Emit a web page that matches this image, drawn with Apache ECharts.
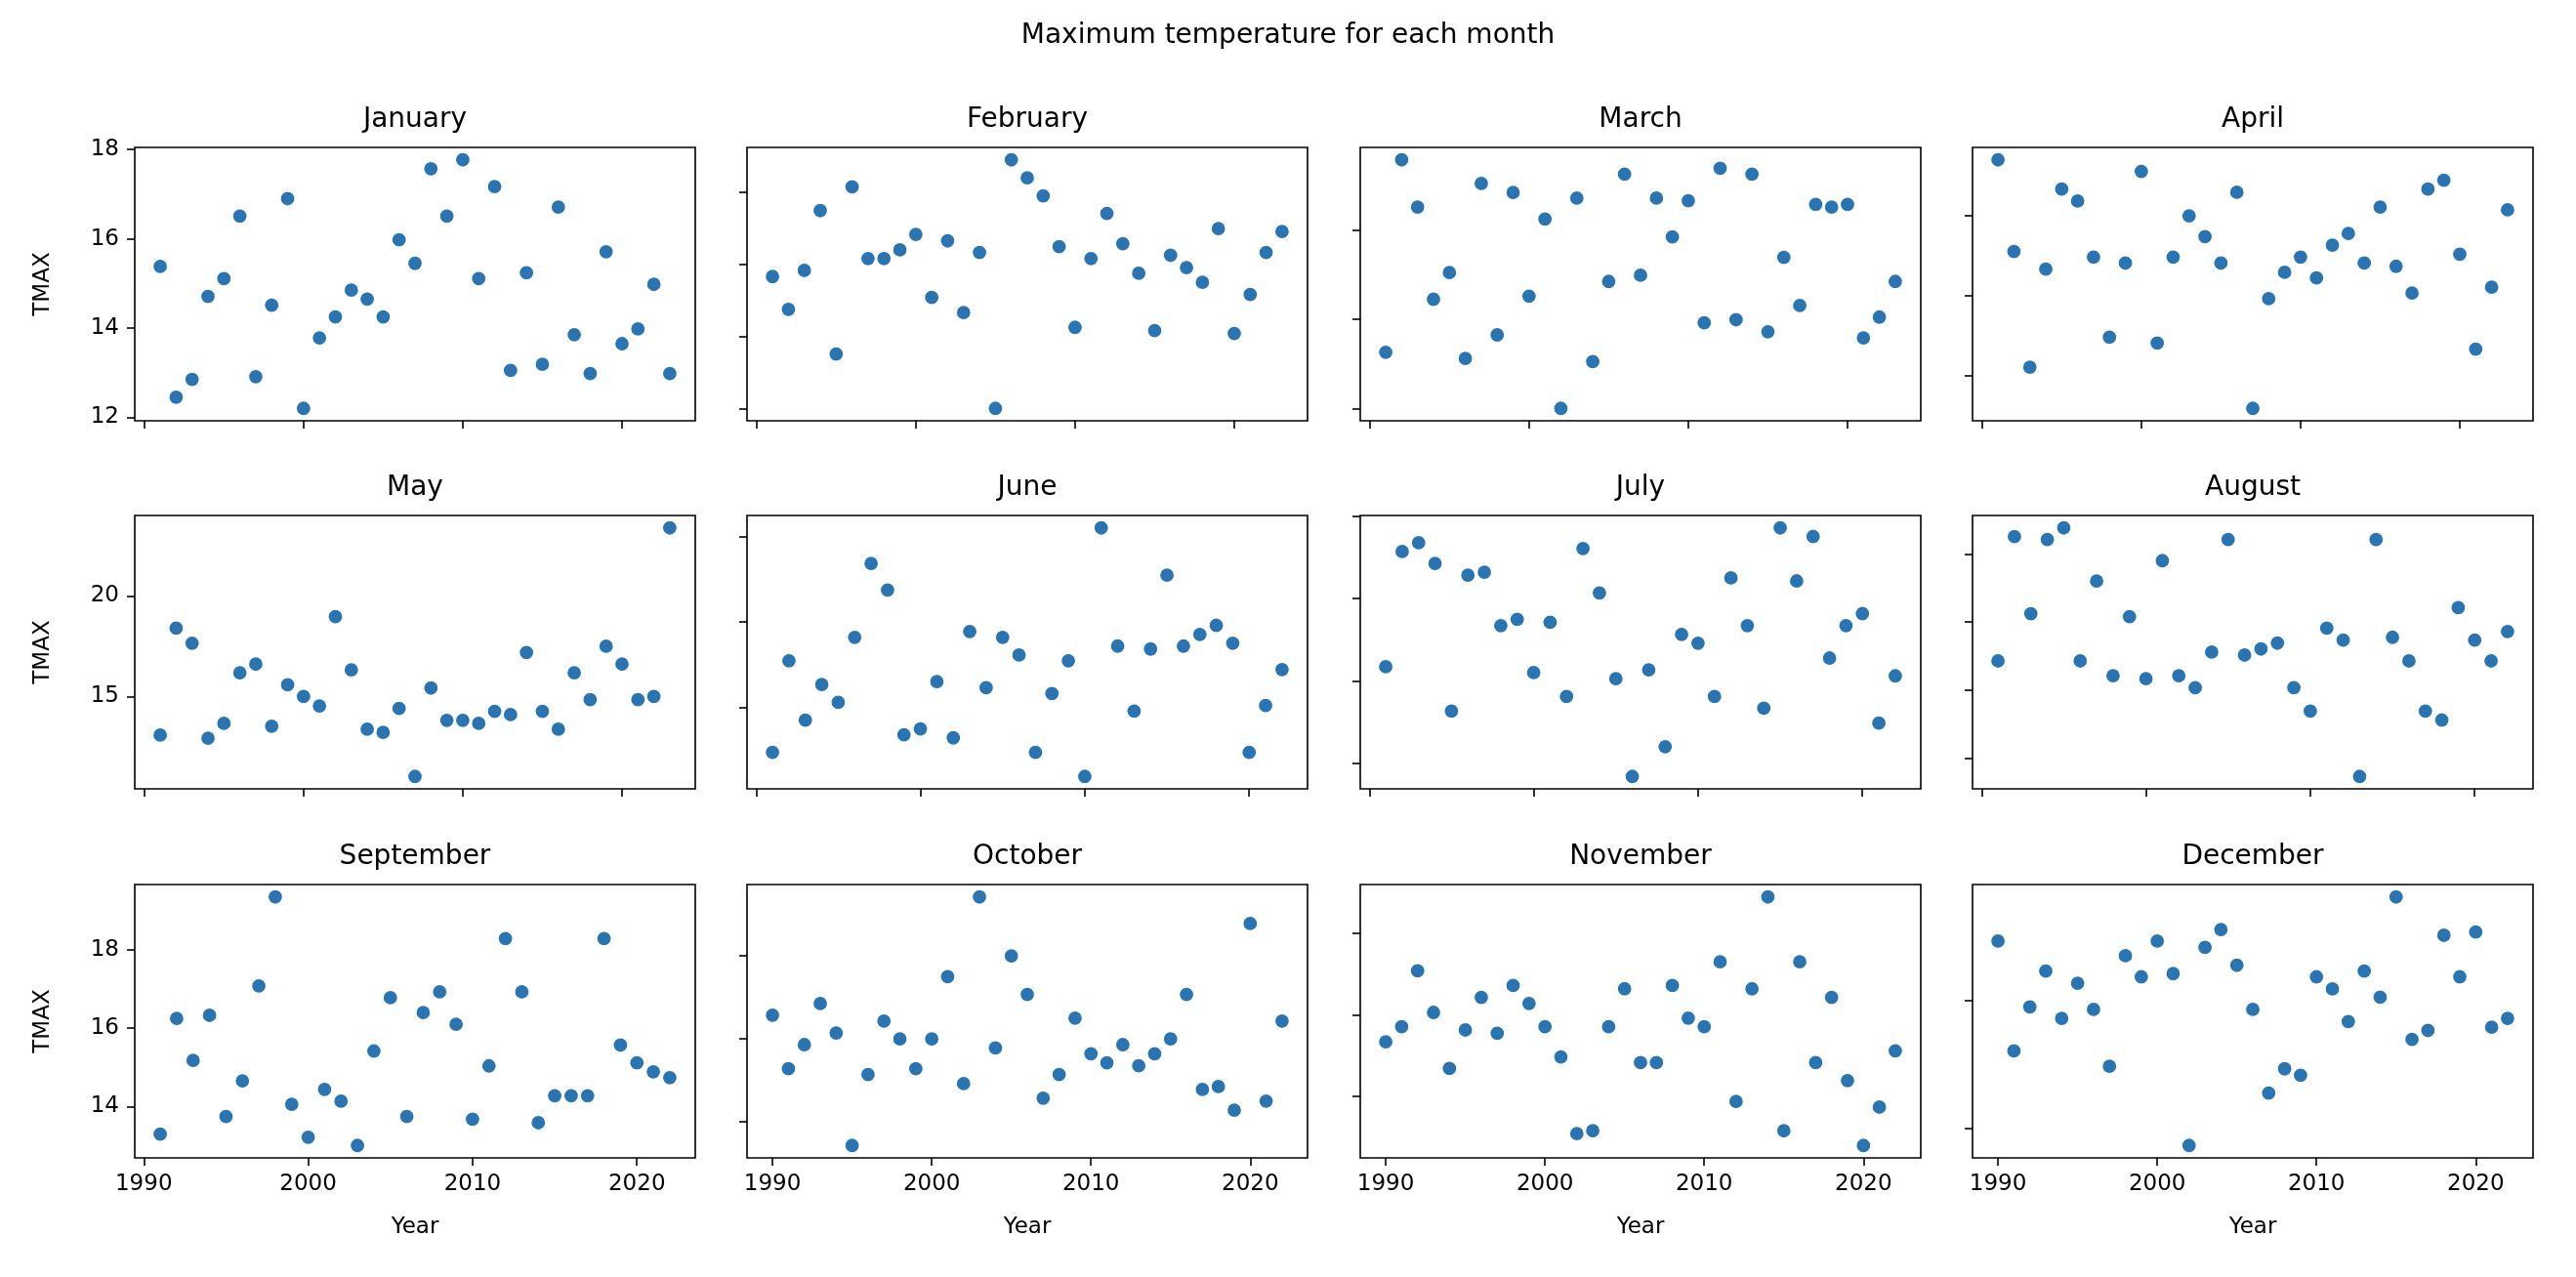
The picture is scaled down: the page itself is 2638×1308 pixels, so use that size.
<!DOCTYPE html>
<html><head><meta charset="utf-8">
<script src="https://cdn.jsdelivr.net/npm/echarts@6/dist/echarts.min.js"></script>
<style>html,body{margin:0;padding:0;background:#fff}#c{width:2638px;height:1308px}</style>
</head><body><div id="c"></div>
<script>
const months = ['January','February','March','April','May','June','July','August','September','October','November','December'];
const firstYear = [1991,1991,1991,1991,1991,1991,1991,1991,1991,1990,1990,1990];
const xTicks = [1990,2000,2010,2020];
const yTicks = [[12,14,16,18],[12,14,16,18],[12,14,16,18],[14,16,18],[15,20],[15,20,25],[15,20,25,30],[15,20,25,30],[14,16,18],[14,16,18],[14,16,18],[14,16]];

const jan = [15.38,12.45,12.85,14.71,15.11,16.51,12.91,14.51,16.90,12.20,13.78,14.25,14.85,14.65,14.25,15.98,15.45,17.57,16.51,17.77,15.11,17.17,13.05,15.24,13.19,16.71,13.85,12.98,15.71,13.65,13.98,14.98,12.98];
const feb = [15.66,14.75,15.83,17.49,13.51,18.15,16.16,16.16,16.40,16.83,15.08,16.65,14.66,16.33,12.00,18.90,18.40,17.90,16.49,14.25,16.16,17.41,16.57,15.75,14.16,16.25,15.91,15.50,16.99,14.08,15.16,16.33,16.91];
const mar = [13.26,17.58,16.52,14.45,15.05,13.12,17.05,13.65,16.85,14.52,16.25,12.00,16.72,13.05,14.85,17.26,14.99,16.72,15.85,16.66,13.92,17.39,13.99,17.26,13.72,15.39,14.31,16.58,16.52,16.58,13.58,14.05,14.85];
const apr = [19.39,17.10,14.21,16.66,18.66,18.36,16.96,14.96,16.81,19.10,14.81,16.96,17.99,17.47,16.81,18.58,13.18,15.92,16.58,16.96,16.44,17.26,17.55,16.81,18.21,16.73,16.06,18.66,18.88,17.03,14.66,16.21,18.14];
const may = [13.08,18.40,17.65,12.92,13.66,16.18,16.61,13.52,15.58,15.00,14.53,18.97,16.32,13.37,13.21,14.40,11.02,15.42,13.81,13.81,13.66,14.26,14.10,17.19,14.26,13.37,16.18,14.84,17.50,16.61,14.84,15.00,23.39];
const jun = [12.40,17.74,14.28,16.36,15.32,19.11,23.42,21.87,13.43,13.77,16.53,13.25,19.45,16.17,19.11,18.08,12.40,15.83,17.74,11.00,25.49,18.60,14.81,18.43,22.74,18.60,19.28,19.81,18.77,12.40,15.13,17.23];
const jul = [20.86,27.84,28.37,27.12,18.18,26.41,26.59,23.35,23.73,20.51,23.55,19.06,28.02,25.33,20.14,14.22,20.67,16.02,22.82,22.29,19.06,26.24,23.35,18.35,29.27,26.06,28.75,21.39,23.35,24.08,17.45,20.31];
const aug = [22.14,31.29,25.62,31.07,31.93,22.14,28.02,21.05,25.40,20.83,29.52,21.05,20.17,22.79,31.07,22.57,23.02,23.45,20.17,18.45,24.55,23.67,13.64,31.07,23.88,22.14,18.45,17.79,26.07,23.67,22.14,24.31];
const sep = [13.30,16.25,15.18,16.33,13.75,14.66,17.08,19.35,14.06,13.22,14.44,14.14,13.01,15.42,16.78,13.75,16.40,16.93,16.10,13.68,15.04,18.29,16.93,13.59,14.28,14.28,14.28,18.29,15.57,15.12,14.89,14.74];
const oct = [16.57,15.28,15.86,16.85,16.14,13.43,15.14,16.43,16.00,15.28,16.00,17.50,14.92,19.42,15.78,18.00,17.07,14.57,15.14,16.50,15.64,15.42,15.86,15.35,15.64,16.00,17.07,14.78,14.85,14.28,18.78,14.50,16.43];
const nov = [15.34,15.71,17.08,16.06,14.69,15.63,16.43,15.55,16.72,16.28,15.71,14.97,13.09,13.16,15.71,16.64,14.83,14.83,16.72,15.92,15.71,17.30,13.88,16.64,18.89,13.16,17.30,14.83,16.43,14.39,12.80,13.74,15.12];
const dec = [16.93,15.21,15.90,16.46,15.72,16.27,15.86,14.97,16.70,16.37,16.93,16.42,13.73,16.83,17.11,16.55,15.86,14.55,14.93,14.83,16.37,16.18,15.67,16.46,16.05,17.62,15.39,15.53,17.02,16.37,17.07,15.58,15.72];

const monthData = [jan,feb,mar,apr,may,jun,jul,aug,sep,oct,nov,dec];

const FONT = 'DejaVu Sans';
const L = [138, 765, 1393, 2020], W = 574;
const T = [151, 528, 906], H = 280;
const grids = [], xAxes = [], yAxes = [], series = [], graphics = [];

graphics.push({type:'text', x:1319, y:37, style:{text:'Maximum temperature for each month', font:'28px "DejaVu Sans"', fill:'#000', textAlign:'center', textVerticalAlign:'middle'}});

for (let i = 0; i < 12; i++) {
  const r = Math.floor(i / 4), c = i % 4;
  const vals = monthData[i];
  const pts = vals.map((v, k) => [firstYear[i] + k, v]);
  const x0 = pts[0][0], x1 = pts[pts.length - 1][0], xm = 0.05 * (x1 - x0);
  const vmin = Math.min(...vals), vmax = Math.max(...vals), ym = 0.05 * (vmax - vmin);
  const yMin = vmin - ym, yMax = vmax + ym;
  const yt = yTicks[i].filter(v => v >= yMin && v <= yMax);
  grids.push({left:L[c], top:T[r], width:W, height:H, show:true, borderColor:'#000', borderWidth:1.6, backgroundColor:'#fff'});
  const tickStyle = {show:true, length:8, inside:false, lineStyle:{color:'#000', width:1.6}};
  xAxes.push({
    gridIndex:i, type:'value', min:x0 - xm, max:x1 + xm,
    splitLine:{show:false}, axisLine:{show:false},
    axisTick:Object.assign({customValues:xTicks}, tickStyle),
    axisLabel:{show:r === 2, customValues:xTicks, formatter:v => String(Math.round(v)), margin:16, fontSize:23, color:'#000', fontFamily:FONT},
    name: r === 2 ? 'Year' : '', nameLocation:'middle', nameGap:60,
    nameTextStyle:{fontSize:23, color:'#000', fontFamily:FONT}
  });
  yAxes.push({
    gridIndex:i, type:'value', min:yMin, max:yMax,
    splitLine:{show:false}, axisLine:{show:false},
    axisTick:Object.assign({customValues:yt}, tickStyle),
    axisLabel:{show:c === 0, customValues:yt, formatter:v => String(Math.round(v)), margin:16, fontSize:23, color:'#000', fontFamily:FONT},
    name: c === 0 ? 'TMAX' : '', nameLocation:'middle', nameGap:82, nameRotate:90,
    nameTextStyle:{fontSize:23, color:'#000', fontFamily:FONT}
  });
  series.push({
    type:'scatter', xAxisIndex:i, yAxisIndex:i, data:pts, symbolSize:15,
    itemStyle:{color:'#2a74b2', borderColor:'#fff', borderWidth:1.2, opacity:1},
    silent:true
  });
  graphics.push({type:'text', x:L[c] + W / 2, y:T[r] - 28, style:{text:months[i], font:'28px "DejaVu Sans"', fill:'#000', textAlign:'center', textVerticalAlign:'middle'}});
}

const chart = echarts.init(document.getElementById('c'));
chart.setOption({
  animation:false,
  backgroundColor:'#fff',
  grid:grids, xAxis:xAxes, yAxis:yAxes, series:series,
  graphic:graphics
});
</script>
</body></html>
